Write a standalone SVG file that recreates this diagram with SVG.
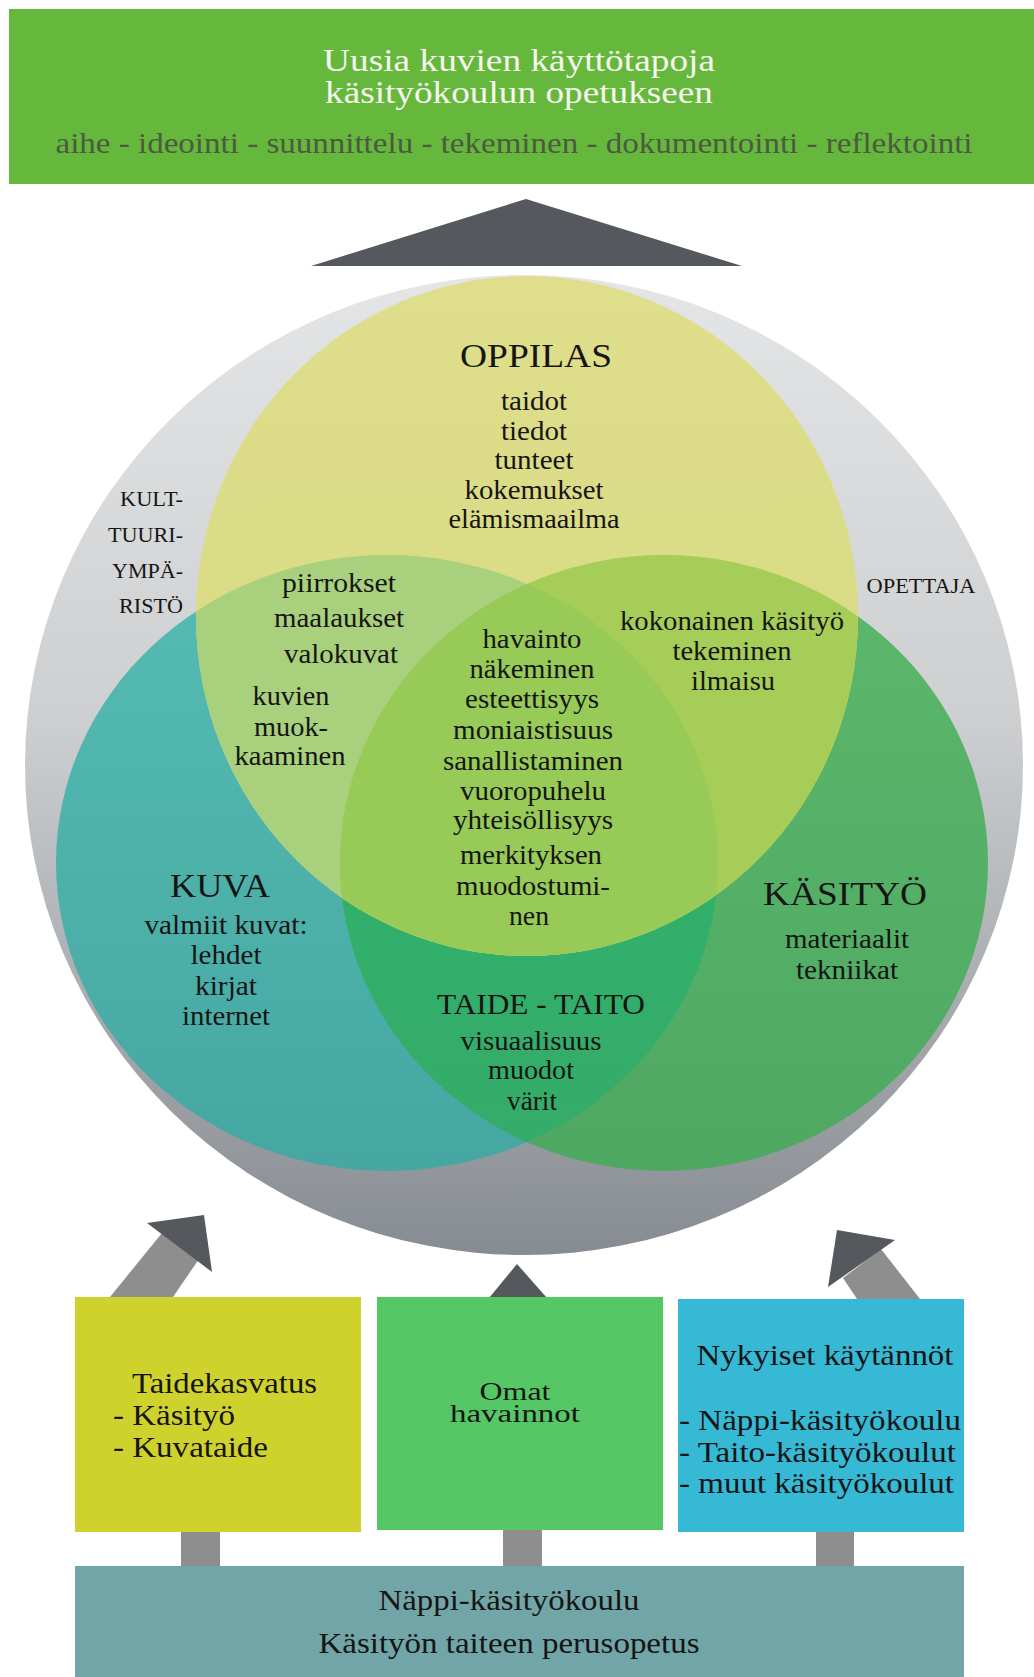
<svg xmlns="http://www.w3.org/2000/svg" width="1034" height="1677" viewBox="0 0 1034 1677">
<style>
text{font-family:"Liberation Serif","Times New Roman",serif;fill:#151515;}
.c{text-anchor:middle}
.e{text-anchor:end}
.t{font-size:27px}
.h{font-size:34px}
.s{font-size:20px}
.b{font-size:30px}
.arrow{fill:#55595d}
.stem{fill:#8e8e8e}
</style>
<defs>
<linearGradient id="gGray" x1="0" y1="0" x2="0" y2="1">
<stop offset="0" stop-color="#e4e5e6"/>
<stop offset="0.45" stop-color="#cdcfd1"/>
<stop offset="1" stop-color="#878c92"/>
</linearGradient>
<linearGradient id="gTeal" x1="0" y1="0" x2="0" y2="1">
<stop offset="0" stop-color="#55bcb3"/>
<stop offset="1" stop-color="#46a7a2"/>
</linearGradient>
<linearGradient id="gGreen" x1="0" y1="0" x2="0" y2="1">
<stop offset="0" stop-color="#5cb86c"/>
<stop offset="1" stop-color="#4ea862"/>
</linearGradient>
<linearGradient id="gLens" x1="0" y1="0" x2="0" y2="1">
<stop offset="0" stop-color="#2bb66c"/>
<stop offset="1" stop-color="#36ab69"/>
</linearGradient>
<linearGradient id="gYellow" x1="0" y1="0" x2="0" y2="1">
<stop offset="0" stop-color="#dfde8c"/>
<stop offset="1" stop-color="#d5d97e"/>
</linearGradient>
<clipPath id="cL"><ellipse cx="387" cy="863" rx="331" ry="308"/></clipPath>
<clipPath id="cR"><ellipse cx="664" cy="863" rx="324" ry="308"/></clipPath>
</defs>
<rect width="1034" height="1677" fill="#ffffff"/>

<g id="banner">
<rect x="9" y="9" width="1025" height="175" fill="#66b83d"/>
<text class="c" x="519" y="71" font-size="32" textLength="392" lengthAdjust="spacingAndGlyphs" style="fill:#f6f6ef">Uusia kuvien käyttötapoja</text>
<text class="c" x="519" y="103" font-size="32" textLength="388" lengthAdjust="spacingAndGlyphs" style="fill:#f6f6ef">käsityökoulun opetukseen</text>
<text class="c" x="514" y="153" font-size="30" textLength="917" lengthAdjust="spacingAndGlyphs" style="fill:#4b5a40">aihe - ideointi - suunnittelu - tekeminen - dokumentointi - reflektointi</text>
</g>

<g id="context">
<ellipse cx="524" cy="765" rx="499" ry="490" fill="url(#gGray)"/>
<text class="s e" x="183" y="506" textLength="63" lengthAdjust="spacingAndGlyphs">KULT-</text>
<text class="s e" x="183" y="542" textLength="75" lengthAdjust="spacingAndGlyphs">TUURI-</text>
<text class="s e" x="183" y="578" textLength="71" lengthAdjust="spacingAndGlyphs">YMPÄ-</text>
<text class="s e" x="183" y="613" textLength="64" lengthAdjust="spacingAndGlyphs">RISTÖ</text>
<text class="s c" x="921" y="593" textLength="109" lengthAdjust="spacingAndGlyphs">OPETTAJA</text>
</g>

<g id="venn">
<ellipse cx="387" cy="863" rx="331" ry="308" fill="url(#gTeal)"/>
<ellipse cx="664" cy="863" rx="324" ry="308" fill="url(#gGreen)"/>
<g clip-path="url(#cL)"><ellipse cx="664" cy="863" rx="324" ry="308" fill="url(#gLens)"/></g>
<ellipse cx="527" cy="616" rx="331" ry="340" fill="url(#gYellow)"/>
<g clip-path="url(#cL)"><ellipse cx="527" cy="616" rx="331" ry="340" fill="#a9d07d"/></g>
<g clip-path="url(#cR)"><ellipse cx="527" cy="616" rx="331" ry="340" fill="#a7cd59"/></g>
<g clip-path="url(#cL)"><g clip-path="url(#cR)"><ellipse cx="527" cy="616" rx="331" ry="340" fill="#98ca57"/></g></g>
</g>

<g id="oppilas">
<text class="h c" x="536" y="367" textLength="152" lengthAdjust="spacingAndGlyphs">OPPILAS</text>
<text class="t c" x="534" y="410" textLength="66" lengthAdjust="spacingAndGlyphs">taidot</text>
<text class="t c" x="534" y="440" textLength="66" lengthAdjust="spacingAndGlyphs">tiedot</text>
<text class="t c" x="534" y="469" textLength="79" lengthAdjust="spacingAndGlyphs">tunteet</text>
<text class="t c" x="534" y="499" textLength="139" lengthAdjust="spacingAndGlyphs">kokemukset</text>
<text class="t c" x="534" y="528" textLength="171" lengthAdjust="spacingAndGlyphs">elämismaailma</text>
</g>

<g id="kuva-oppilas">
<text class="t c" x="339" y="592" textLength="114" lengthAdjust="spacingAndGlyphs">piirrokset</text>
<text class="t c" x="339" y="627" textLength="130" lengthAdjust="spacingAndGlyphs">maalaukset</text>
<text class="t c" x="341" y="663" textLength="114" lengthAdjust="spacingAndGlyphs">valokuvat</text>
<text class="t c" x="291" y="705" textLength="77" lengthAdjust="spacingAndGlyphs">kuvien</text>
<text class="t c" x="291" y="736" textLength="74" lengthAdjust="spacingAndGlyphs">muok-</text>
<text class="t c" x="290" y="765" textLength="111" lengthAdjust="spacingAndGlyphs">kaaminen</text>
</g>

<g id="center">
<text class="t c" x="532" y="648" textLength="99" lengthAdjust="spacingAndGlyphs">havainto</text>
<text class="t c" x="532" y="678" textLength="125" lengthAdjust="spacingAndGlyphs">näkeminen</text>
<text class="t c" x="532" y="708" textLength="134" lengthAdjust="spacingAndGlyphs">esteettisyys</text>
<text class="t c" x="533" y="739" textLength="160" lengthAdjust="spacingAndGlyphs">moniaistisuus</text>
<text class="t c" x="533" y="770" textLength="180" lengthAdjust="spacingAndGlyphs">sanallistaminen</text>
<text class="t c" x="533" y="800" textLength="146" lengthAdjust="spacingAndGlyphs">vuoropuhelu</text>
<text class="t c" x="533" y="829" textLength="160" lengthAdjust="spacingAndGlyphs">yhteisöllisyys</text>
<text class="t c" x="531" y="864" textLength="142" lengthAdjust="spacingAndGlyphs">merkityksen</text>
<text class="t c" x="533" y="895" textLength="154" lengthAdjust="spacingAndGlyphs">muodostumi-</text>
<text class="t c" x="529" y="925" textLength="40" lengthAdjust="spacingAndGlyphs">nen</text>
</g>

<g id="kasityo-oppilas">
<text class="t c" x="732" y="630" textLength="224" lengthAdjust="spacingAndGlyphs">kokonainen käsityö</text>
<text class="t c" x="732" y="660" textLength="119" lengthAdjust="spacingAndGlyphs">tekeminen</text>
<text class="t c" x="733" y="690" textLength="84" lengthAdjust="spacingAndGlyphs">ilmaisu</text>
</g>

<g id="kuva">
<text class="h c" x="220" y="897" textLength="100" lengthAdjust="spacingAndGlyphs">KUVA</text>
<text class="t c" x="226" y="934" textLength="163" lengthAdjust="spacingAndGlyphs">valmiit kuvat:</text>
<text class="t c" x="226" y="964" textLength="71" lengthAdjust="spacingAndGlyphs">lehdet</text>
<text class="t c" x="226" y="995" textLength="62" lengthAdjust="spacingAndGlyphs">kirjat</text>
<text class="t c" x="226" y="1025" textLength="88" lengthAdjust="spacingAndGlyphs">internet</text>
</g>

<g id="kasityo">
<text class="h c" x="845" y="905" textLength="164" lengthAdjust="spacingAndGlyphs">KÄSITYÖ</text>
<text class="t c" x="847" y="948" textLength="124" lengthAdjust="spacingAndGlyphs">materiaalit</text>
<text class="t c" x="847" y="979" textLength="102" lengthAdjust="spacingAndGlyphs">tekniikat</text>
</g>

<g id="taide-taito">
<text class="c" x="541" y="1014" font-size="29" textLength="208" lengthAdjust="spacingAndGlyphs">TAIDE - TAITO</text>
<text class="t c" x="531" y="1050" textLength="141" lengthAdjust="spacingAndGlyphs">visuaalisuus</text>
<text class="t c" x="531" y="1079" textLength="86" lengthAdjust="spacingAndGlyphs">muodot</text>
<text class="t c" x="532" y="1110" textLength="50" lengthAdjust="spacingAndGlyphs">värit</text>
</g>

<g id="connectors">
<polygon class="arrow" points="311,266 526,199 742,266"/>
<polygon class="stem" points="110,1297 173,1297 199,1259 162,1233"/>
<polygon class="arrow" points="147,1223 204,1215 212,1272"/>
<polygon class="stem" points="857,1299 920,1299 881,1249 843,1278"/>
<polygon class="arrow" points="837,1230 895,1240 828,1287"/>
<polygon class="arrow" points="517,1264 489,1298 547,1298"/>
<rect class="stem" x="181" y="1531" width="39" height="36"/>
<rect class="stem" x="503" y="1529" width="39" height="38"/>
<rect class="stem" x="816" y="1531" width="38" height="36"/>
</g>

<g id="taidekasvatus">
<rect x="75" y="1297" width="286" height="235" fill="#cfd22d"/>
<text class="b" x="132" y="1393" textLength="185" lengthAdjust="spacingAndGlyphs">Taidekasvatus</text>
<text class="b" x="113" y="1425" textLength="122" lengthAdjust="spacingAndGlyphs">- Käsityö</text>
<text class="b" x="113" y="1457" textLength="155" lengthAdjust="spacingAndGlyphs">- Kuvataide</text>
</g>

<g id="omat">
<rect x="377" y="1297" width="286" height="233" fill="#56c765"/>
<text class="c" x="515" y="1400" font-size="26" textLength="71" lengthAdjust="spacingAndGlyphs">Omat</text>
<text class="c" x="515" y="1422" font-size="26" textLength="130" lengthAdjust="spacingAndGlyphs">havainnot</text>
</g>

<g id="nykyiset">
<rect x="678" y="1299" width="286" height="233" fill="#36b9d5"/>
<text class="b c" x="825" y="1365" textLength="257" lengthAdjust="spacingAndGlyphs">Nykyiset käytännöt</text>
<text class="b" x="679" y="1430" textLength="282" lengthAdjust="spacingAndGlyphs">- Näppi-käsityökoulu</text>
<text class="b" x="679" y="1462" textLength="277" lengthAdjust="spacingAndGlyphs">- Taito-käsityökoulut</text>
<text class="b" x="679" y="1493" textLength="275" lengthAdjust="spacingAndGlyphs">- muut käsityökoulut</text>
</g>

<g id="nappi">
<rect x="75" y="1566" width="889" height="111" fill="#72a5a7"/>
<text class="b c" x="509" y="1610" textLength="261" lengthAdjust="spacingAndGlyphs">Näppi-käsityökoulu</text>
<text class="b c" x="509" y="1653" textLength="381" lengthAdjust="spacingAndGlyphs">Käsityön taiteen perusopetus</text>
</g>
</svg>
